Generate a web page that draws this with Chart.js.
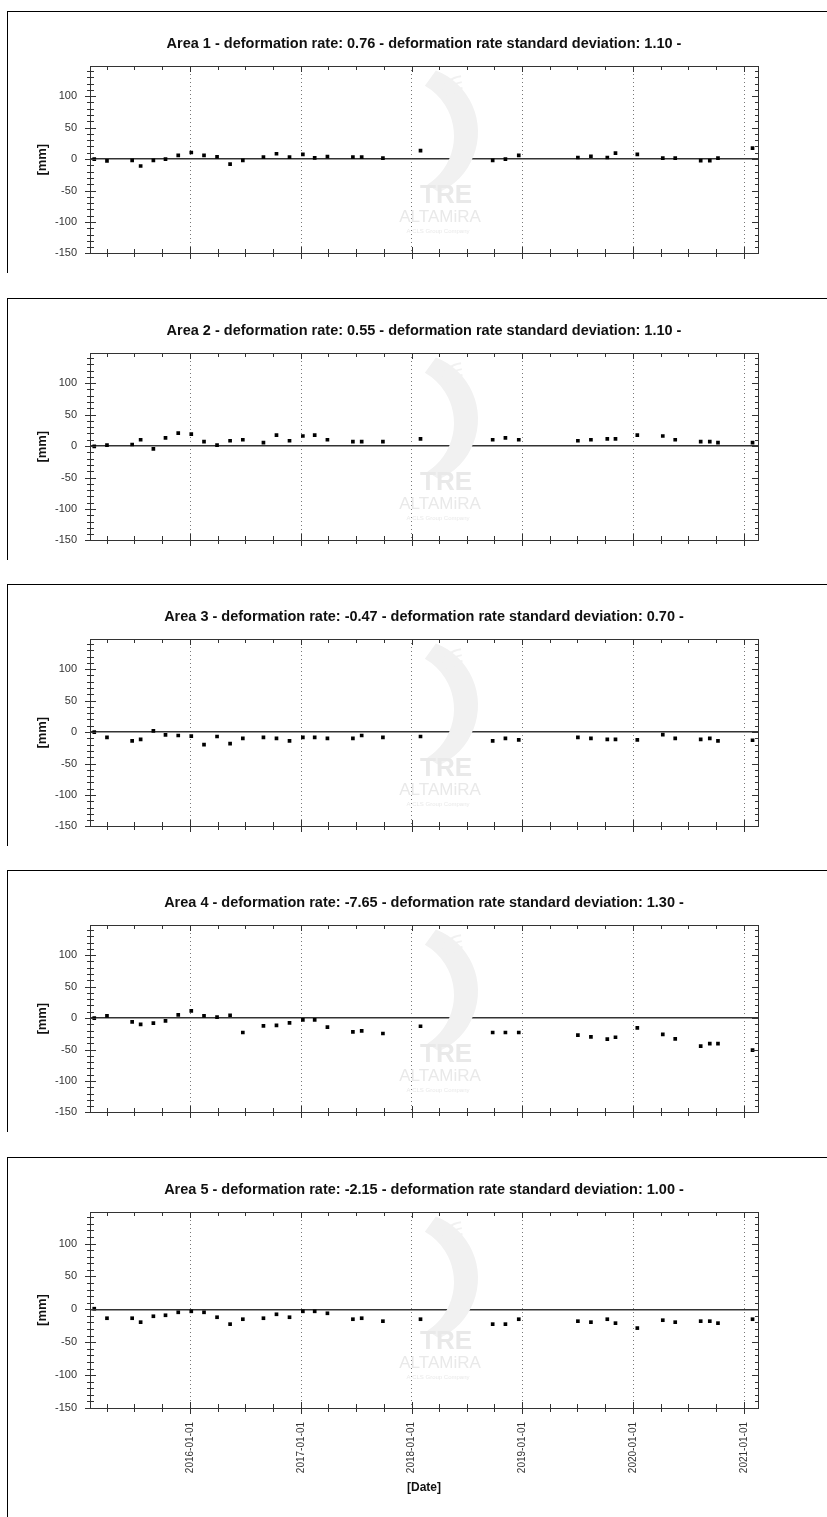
<!DOCTYPE html>
<html>
<head>
<meta charset="utf-8">
<script src="https://cdn.jsdelivr.net/npm/chart.js@4.4.1/dist/chart.umd.min.js"></script>
<style>
    html, body { margin: 0; padding: 0; background: #fff; }
    body { width: 827px; height: 1517px; position: relative; overflow: hidden; }
    .painel { position: absolute; left: 7px; width: 820px; border-top: 1px solid #000; border-left: 1px solid #000; }
    .painel canvas { display: block; }
</style>
</head>
<body>
<div class="painel" style="top:11px"><canvas id="area1" width="819" height="261"></canvas></div>
<div class="painel" style="top:298px"><canvas id="area2" width="819" height="261"></canvas></div>
<div class="painel" style="top:584px"><canvas id="area3" width="819" height="261"></canvas></div>
<div class="painel" style="top:870px"><canvas id="area4" width="819" height="261"></canvas></div>
<div class="painel" style="top:1157px"><canvas id="area5" width="819" height="359"></canvas></div>

<script>
// Datas de aquisição (iguais para todas as áreas)
const datas = [
    '2015-02-19', '2015-04-02', '2015-06-24', '2015-07-22', '2015-09-02', '2015-10-12',
    '2015-11-23', '2016-01-05', '2016-02-16', '2016-03-30', '2016-05-12', '2016-06-23',
    '2016-08-30', '2016-10-12', '2016-11-24', '2017-01-07', '2017-02-15', '2017-03-29',
    '2017-06-21', '2017-07-20', '2017-09-28', '2018-01-30', '2018-09-25', '2018-11-06',
    '2018-12-20', '2019-07-03', '2019-08-15', '2019-10-08', '2019-11-04', '2020-01-15',
    '2020-04-08', '2020-05-19', '2020-08-11', '2020-09-10', '2020-10-07', '2021-01-29'
];

// Deslocamentos [mm] por área
const area1 = [0, -3, -2, -11, -2, 0, 6, 10.5, 6, 3.5, -8, -2, 3, 8.5, 3, 7.5, 2, 4, 3, 3, 1.5, 13.5, -2, 0, 6, 2.5, 4.5, 2.5, 9.5, 7.5, 1.5, 1.5, -2.5, -2.5, 1.5, 17.5];
const area2 = [-0.5, 1.5, 2.5, 10, -4.5, 13, 20.5, 19, 7, 1.5, 8.5, 10, 5.5, 17.5, 8.5, 16, 17.5, 10, 7, 7, 7, 11.5, 10, 13, 10, 8.5, 10, 11.5, 11.5, 17.5, 16, 10, 7, 7, 5.5, 5.5];
const area3 = [0, -8.5, -14, -11.5, 2, -4.5, -5.5, -6.5, -20, -7, -18.5, -10, -8.5, -10, -14, -8.5, -8.5, -10, -10, -5.5, -8.5, -7, -14, -10, -12.5, -8.5, -10, -11.5, -11.5, -12.5, -4, -10, -11.5, -10, -14, -13];
const area4 = [0, 3.5, -6, -10, -8, -4.5, 5, 11.5, 3.5, 1.5, 4.5, -23, -12.5, -11.5, -7.5, -3, -3, -14.5, -22, -20.5, -24.5, -13, -23, -23, -23, -27, -30, -33.5, -30.5, -15.5, -26, -33, -44.5, -40.5, -40.5, -51];
const area5 = [1, -13.5, -13.5, -19.5, -10.5, -9, -4.5, -3, -4.5, -12, -22.5, -15, -13.5, -7.5, -12, -3, -3, -6, -15, -13.5, -18, -15, -22.5, -22.5, -15, -18, -19.5, -15, -21, -28.5, -16.5, -19.5, -18, -18, -21, -15];

const taxas = [0.76, 0.55, -0.47, -7.65, -2.15];
const desvios = [1.10, 1.10, 0.70, 1.30, 1.00];

// Ticks dos eixos
const anosTicks = ['2016-01-01', '2017-01-01', '2018-01-01', '2019-01-01', '2020-01-01', '2021-01-01'];
const mmTicks = [-150, -100, -50, 0, 50, 100];

const FONTE = "Arial, 'Liberation Sans', sans-serif";

// Moldura, marcas de escala e marca d'água
const moldura = {
    id: 'moldura',
    beforeDatasetsDraw(chart) {
        const { ctx, chartArea: a } = chart;
        const cx = a.left + 352;
        ctx.save();
        ctx.fillStyle = '#f1f1f1';
        ctx.beginPath();
        ctx.arc(a.left + 322, a.top + 66, 66, -1.2, 1.15, false);
        ctx.arc(a.left + 306, a.top + 70, 58, 1.0, -1.05, true);
        ctx.closePath();
        ctx.fill();
        ctx.strokeStyle = '#f1f1f1';
        ctx.lineWidth = 2;
        [14, 20, 26].forEach(r => {
            ctx.beginPath();
            ctx.arc(a.left + 374, a.top + 36, r, 3.5, 4.6);
            ctx.stroke();
        });
        ctx.fillStyle = '#e9e9e9';
        ctx.textAlign = 'center';
        ctx.textBaseline = 'middle';
        ctx.font = `bold 26px ${FONTE}`;
        ctx.fillText('TRE', cx + 4, a.top + 130);
        ctx.font = `17px ${FONTE}`;
        ctx.fillText('ALTAMiRA', cx - 2, a.top + 151);
        ctx.font = `6px ${FONTE}`;
        ctx.fillText('A CLS Group Company', cx - 4, a.top + 165);
        ctx.restore();
    },
    afterDraw(chart) {
        const { ctx, chartArea: a, scales: { x, y } } = chart;
        ctx.save();
        ctx.strokeStyle = '#333';
        ctx.lineWidth = 1;
        ctx.strokeRect(Math.round(a.left) + 0.5, Math.round(a.top) + 0.5,
            Math.round(a.right - a.left), Math.round(a.bottom - a.top));

        ctx.beginPath();
        for (let v = -150; v <= y.max; v += 10) {
            const py = Math.round(y.getPixelForValue(v)) + 0.5;
            const maior = v % 50 === 0;
            const L = Math.round(a.left), R = Math.round(a.right);
            ctx.moveTo(L - (maior ? 5 : 3), py);
            ctx.lineTo(L + (maior ? 6 : 4), py);
            ctx.moveTo(R - (maior ? 6 : 3), py);
            ctx.lineTo(R, py);
        }
        for (let ano = 2015; ano <= 2021; ano++) {
            for (let m = 0; m < 12; m += 3) {
                const t = Date.UTC(ano, m, 1);
                if (t < x.min || t > x.max) continue;
                const px = Math.round(x.getPixelForValue(t)) + 0.5;
                const maior = m === 0;
                const B = Math.round(a.bottom), T = Math.round(a.top);
                ctx.moveTo(px, B - (maior ? 6 : 4));
                ctx.lineTo(px, B + (maior ? 6 : 4));
                ctx.moveTo(px, T);
                ctx.lineTo(px, T + (maior ? 6 : 4));
            }
        }
        ctx.stroke();
        ctx.restore();
    }
};

function formatarData(valor) {
    return new Date(valor).toISOString().slice(0, 10);
}

function criarGrafico(id, valores, indice, comEixoX) {
    const ctx = document.getElementById(id).getContext('2d');
    const titulo = `Area ${indice + 1} - deformation rate: ${taxas[indice].toFixed(2)} - deformation rate standard deviation: ${desvios[indice].toFixed(2)} -`;

    return new Chart(ctx, {
        type: 'scatter',
        data: {
            datasets: [{
                data: datas.map((d, i) => ({ x: Date.parse(d), y: valores[i] })),
                backgroundColor: '#000',
                borderWidth: 0,
                pointStyle: 'rect',
                pointRadius: 2.6,
                pointHoverRadius: 2.6
            }]
        },
        options: {
            responsive: false,
            animation: false,
            devicePixelRatio: 1,
            layout: { padding: { left: 0, right: 69, top: 0, bottom: 0 } },
            plugins: {
                legend: { display: false },
                tooltip: { enabled: false },
                title: {
                    display: true,
                    text: titulo,
                    fullSize: false,
                    color: '#111',
                    font: { family: FONTE, size: 14.5, weight: 'bold' },
                    padding: { top: 23.3, bottom: 13.3 }
                }
            },
            scales: {
                x: {
                    type: 'linear',
                    min: Date.UTC(2015, 1, 5),
                    max: Date.UTC(2021, 1, 16),
                    afterBuildTicks: s => { s.ticks = anosTicks.map(d => ({ value: Date.parse(d) })); },
                    afterFit: s => { s.height = comEixoX ? 109 : 11; },
                    grid: { drawTicks: false, color: '#777', lineWidth: 1 },
                    border: { display: false, dash: [1, 3] },
                    ticks: {
                        display: comEixoX,
                        autoSkip: false,
                        minRotation: 90,
                        maxRotation: 90,
                        padding: 14,
                        color: '#333',
                        font: { family: FONTE, size: 10 },
                        callback: v => formatarData(v)
                    },
                    title: {
                        display: comEixoX,
                        text: '[Date]',
                        color: '#111',
                        font: { family: FONTE, size: 12, weight: 'bold' },
                        padding: { top: 0, bottom: 22 }
                    }
                },
                y: {
                    min: -150,
                    max: 148,
                    afterBuildTicks: s => { s.ticks = mmTicks.map(v => ({ value: v })); },
                    afterFit: s => { s.width = 82; },
                    grid: {
                        drawTicks: false,
                        lineWidth: 1.5,
                        color: c => (c.tick && c.tick.value === 0) ? '#333' : 'rgba(0,0,0,0)'
                    },
                    border: { display: false },
                    ticks: {
                        padding: 13,
                        color: '#333',
                        font: { family: FONTE, size: 11 }
                    },
                    title: {
                        display: true,
                        text: '[mm]',
                        color: '#111',
                        font: { family: FONTE, size: 13, weight: 'bold' },
                        padding: { top: 27 }
                    }
                }
            }
        },
        plugins: [moldura]
    });
}

criarGrafico('area1', area1, 0, false);
criarGrafico('area2', area2, 1, false);
criarGrafico('area3', area3, 2, false);
criarGrafico('area4', area4, 3, false);
criarGrafico('area5', area5, 4, true);
</script>
</body>
</html>
